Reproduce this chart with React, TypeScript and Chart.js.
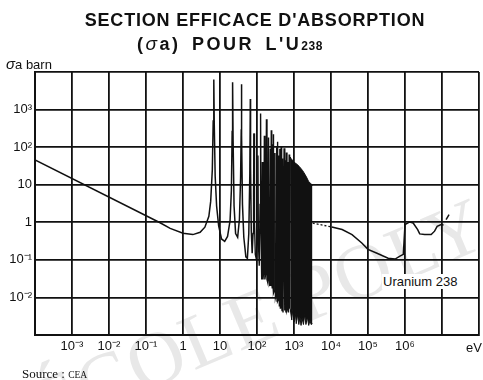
import React, { useEffect, useRef } from "react";
import { Chart, registerables } from "chart.js";

Chart.register(...registerables);

// Axis decades and tick labels
const xDecades = [1e-4, 1e-3, 1e-2, 1e-1, 1, 10, 1e2, 1e3, 1e4, 1e5, 1e6, 1e7, 1e8];
const xTickLabels = ["", "10⁻³", "10⁻²", "10⁻¹", "1", "10", "10²", "10³", "10⁴", "10⁵", "10⁶", "", ""];
const yDecades = [1e-3, 1e-2, 1e-1, 1, 10, 1e2, 1e3, 1e4];
const yTickLabels = ["", "10⁻²", "10⁻¹", "1", "10", "10²", "10³", ""];

// [energy eV, sigma barn]
// thermal 1/v region and first resolved resonances
const lowCurve: [number, number][] = [
  [1e-4, 46], [0.24, 0.97], [0.45, 0.69], [1.0, 0.51], [1.85, 0.47], [2.9, 0.54],
  [3.9, 0.74], [5.0, 1.45], [5.6, 3.6], [6.2, 25], [6.55, 500], [6.8, 6300],
  [7.0, 400], [7.4, 17], [8.1, 2.7], [9.2, 0.8], [11, 0.36], [13.4, 0.31],
  [16, 0.42], [18.7, 1.1], [20.3, 7], [21.3, 260], [21.9, 5300], [22.6, 150],
  [24, 2.7], [26.4, 0.5], [30, 0.4], [33.5, 1.2], [36, 15], [37.5, 300],
  [38, 4700], [38.6, 200], [40.5, 3], [44, 0.4], [50, 0.12], [55, 0.11],
  [60, 0.5], [64, 20], [66, 1900], [67, 30], [70, 0.6], [74, 0.15],
  [78, 0.5], [81, 8], [83, 230],
];

// dense resolved resonances 83 eV - 790 eV
const denseCurve: [number, number][] = [
  [83, 230], [85.5, 1.0], [90, 0.14], [97, 0.1], [103, 0.6], [106, 60],
  [109, 0.3], [115, 0.07], [121, 3], [125, 790], [129, 0.5], [134, 0.03],
  [140, 40], [145, 0.03], [152, 0.05], [158, 200], [163, 0.03], [170, 0.04],
  [180, 550], [186, 0.03], [195, 0.025], [205, 180], [212, 0.03], [222, 0.02],
  [230, 90], [236, 0.02], [243, 280], [250, 0.025], [258, 0.018], [266, 120],
  [271, 0.02], [275, 220], [283, 0.013], [295, 0.015], [305, 70], [315, 0.01],
  [328, 0.012], [340, 100], [348, 0.008], [355, 140], [366, 0.008], [380, 0.009],
  [392, 60], [402, 0.006], [415, 90], [428, 0.005], [450, 105], [463, 0.006],
  [475, 0.0045], [490, 50], [505, 0.004], [540, 93], [556, 0.0045], [570, 0.006],
  [590, 45], [605, 0.004], [625, 72], [645, 0.0045], [665, 0.005], [690, 40],
  [710, 0.004], [740, 64], [760, 0.005], [790, 55],
];

// unresolved black band 790 eV - 3.15 keV (upper and lower envelopes)
const bandTop: [number, number][] = [
  [790, 55], [830, 50], [1000, 40], [1200, 35], [1370, 31], [1700, 24],
  [1970, 19], [2250, 15], [2500, 12], [2800, 11], [3150, 9.5],
];
const bandBottom: [number, number][] = [
  [790, 0.005], [870, 0.0025], [930, 0.005], [1000, 0.0022], [1080, 0.004],
  [1150, 0.002], [1250, 0.0035], [1350, 0.0019], [1450, 0.003], [1550, 0.0018],
  [1650, 0.0028], [1800, 0.0019], [1950, 0.0035], [2100, 0.0019], [2300, 0.003],
  [2500, 0.0018], [2700, 0.0025], [2900, 0.0019], [3150, 0.002],
];

// dotted link and fast region
const dottedCurve: [number, number][] = [[3200, 0.95], [4700, 0.88], [10500, 0.75]];
const fastCurve: [number, number][] = [
  [10500, 0.75], [20000, 0.64], [37000, 0.47], [68000, 0.28], [100000, 0.19],
  [175000, 0.15], [350000, 0.11], [540000, 0.105], [730000, 0.125], [900000, 0.14],
  [1000000, 0.87], [1350000, 1.02], [1660000, 0.96], [2200000, 0.64], [2500000, 0.49],
  [3400000, 0.47], [5100000, 0.47], [6300000, 0.58], [7400000, 0.78], [9500000, 0.87],
  [11000000, 0.85],
];
const tailCurve: [number, number][] = [[12900000, 1.18], [15500000, 1.6]];

const INK = "#111";
const SANS = "'Liberation Sans', Arial, Helvetica, sans-serif";
const SERIF = "'Liberation Serif', 'Times New Roman', serif";

const toPts = (arr: [number, number][]) => arr.map(([x, y]) => ({ x, y }));

export default function App() {
  const ref = useRef<HTMLCanvasElement | null>(null);

  useEffect(() => {
    if (!ref.current) return;
    const line = (d: [number, number][], extra: any = {}) => ({
      data: toPts(d),
      borderColor: INK,
      borderWidth: 1.5,
      pointRadius: 0,
      tension: 0,
      fill: false,
      ...extra,
    });
    const chart = new Chart(ref.current, {
      type: "line",
      data: {
        datasets: [
          line(lowCurve),
          line(denseCurve, { borderWidth: 1.4 }),
          line(bandTop, { fill: "+1", backgroundColor: INK, borderWidth: 1 }),
          line(bandBottom, { borderWidth: 1 }),
          line(dottedCurve, { borderDash: [2, 2], borderWidth: 1.3 }),
          line(fastCurve),
          line(tailCurve),
        ],
      },
      options: {
        animation: false,
        responsive: false,
        events: [],
        layout: { padding: { top: 72, right: 1, left: 0, bottom: 0 } },
        plugins: { legend: { display: false }, tooltip: { enabled: false }, title: { display: false } },
        scales: {
          x: {
            type: "logarithmic",
            min: 1e-4,
            max: 1e8,
            afterBuildTicks: (axis: any) => {
              axis.ticks = xDecades.map((v) => ({ value: v }));
            },
            afterFit: (s: any) => {
              s.height = 45;
            },
            ticks: {
              autoSkip: false,
              maxRotation: 0,
              minRotation: 0,
              padding: 4,
              color: INK,
              font: { family: SANS, size: 13 },
              callback: (_v: any, i: number) => xTickLabels[i],
            },
            grid: { color: INK, lineWidth: 1.8, drawTicks: false },
            border: { color: INK, width: 2 },
          },
          y: {
            type: "logarithmic",
            min: 1e-3,
            max: 1e4,
            afterBuildTicks: (axis: any) => {
              axis.ticks = yDecades.map((v) => ({ value: v }));
            },
            afterFit: (s: any) => {
              s.width = 35;
            },
            ticks: {
              autoSkip: false,
              padding: 3,
              color: INK,
              font: { family: SANS, size: 13 },
              callback: (_v: any, i: number) => yTickLabels[i],
            },
            grid: { color: INK, lineWidth: 1.8, drawTicks: false },
            border: { color: INK, width: 2 },
          },
        },
      },
    } as any);
    return () => chart.destroy();
  }, []);

  const abs: React.CSSProperties = { position: "absolute", whiteSpace: "nowrap", color: INK, margin: 0 };

  return (
    <div style={{ position: "absolute", left: 0, top: 0, width: 483, height: 380, background: "#fff", overflow: "hidden" }}>
      <div
        style={{
          ...abs,
          left: 45,
          top: 435 - 66,
          color: "#e8e8e8",
          fontFamily: SERIF,
          fontSize: 78,
          lineHeight: "78px",
          letterSpacing: 2,
          transform: "rotate(-23deg)",
          transformOrigin: "0 66px",
        }}
      >
        ÉCOLE POLY
      </div>
      <canvas ref={ref} width={483} height={380} style={{ position: "absolute", left: 0, top: 0, width: 483, height: 380 }} />
      <div style={{ ...abs, left: 255, top: 11, transform: "translateX(-50%)", fontFamily: SANS, fontWeight: 700, fontSize: 18, lineHeight: "18px", letterSpacing: 0.8 }}>
        SECTION EFFICACE D'ABSORPTION
      </div>
      <div style={{ ...abs, left: 230, top: 35, transform: "translateX(-50%)", fontFamily: SANS, fontWeight: 700, fontSize: 18, lineHeight: "18px", letterSpacing: 2.5, wordSpacing: 4 }}>
        (<span style={{ fontStyle: "italic", fontWeight: 400, fontSize: 19 }}>σ</span>a) POUR L'U<span style={{ fontSize: 12, letterSpacing: 0.5 }}>238</span>
      </div>
      <div style={{ ...abs, left: 6, top: 57, fontFamily: SANS, fontSize: 13, lineHeight: "13px" }}>
        <span style={{ fontStyle: "italic", fontSize: 15 }}>σ</span>a barn
      </div>
      <div style={{ ...abs, left: 382, top: 274, fontFamily: SANS, fontSize: 13, lineHeight: "13px", background: "#fff", padding: "1px 1px" }}>
        Uranium 238
      </div>
      <div style={{ ...abs, left: 466, top: 341, fontFamily: SANS, fontSize: 13, lineHeight: "13px" }}>eV</div>
      <div style={{ ...abs, left: 22, top: 367, fontFamily: SERIF, fontSize: 13, lineHeight: "13px" }}>
        Source : <span style={{ fontSize: 9.5 }}>CEA</span>
      </div>
    </div>
  );
}
